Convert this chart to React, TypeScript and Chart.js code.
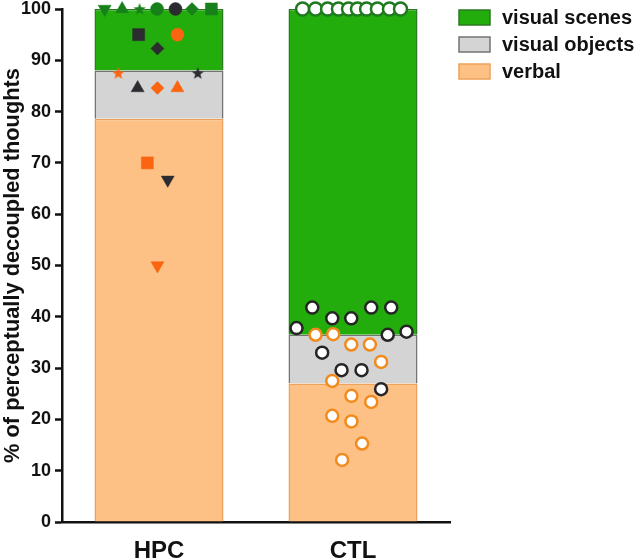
import React, { useEffect, useRef } from "react";
import { Chart, registerables } from "chart.js";

Chart.register(...registerables);

// ---- data ----
const categories = ["HPC", "CTL"];
const verbal = [78.6, 27.0];
const visualObjects = [9.4, 9.5];
const visualScenes = [12.0, 63.5];

const legendLabels = ["visual scenes", "visual objects", "verbal"];

// HPC individual markers (offset within category, value, marker id)
const hpcOffset = [-0.28, -0.19, -0.1, -0.01, 0.085, 0.17, 0.27, -0.105, 0.095, -0.008, -0.21, 0.2, -0.11, -0.008, 0.095, -0.06, 0.045, -0.008];
const hpcValue = [100, 100, 100, 100, 100, 100, 100, 95, 95, 92.3, 87.5, 87.5, 84.6, 84.6, 84.6, 70, 66.7, 50];
const hpcMarker = ["gTriDown", "gTri", "gStar", "gCircle", "kCircle", "gDiamond", "gSquare", "kSquare", "oCircle", "kDiamond", "oStar", "kStar", "kTri", "oDiamond", "oTri", "oSquare", "kTriDown", "oTriDown"];

// CTL individual circles
const ctlTopOffset = [-0.26, -0.193, -0.131, -0.075, -0.023, 0.023, 0.07, 0.126, 0.188, 0.245];
const ctlTopValue = [100, 100, 100, 100, 100, 100, 100, 100, 100, 100];
const ctlDarkOffset = [-0.21, -0.107, -0.009, 0.094, 0.197, -0.291, 0.179, 0.276, -0.159, -0.059, 0.044, 0.145];
const ctlDarkValue = [41.8, 39.7, 39.7, 41.8, 41.8, 37.8, 36.5, 37.1, 33.0, 29.6, 29.6, 25.9];
const ctlOrangeOffset = [-0.193, -0.102, -0.009, 0.087, 0.145, -0.107, -0.008, 0.094, -0.107, -0.008, 0.047, -0.056];
const ctlOrangeValue = [36.5, 36.6, 34.6, 34.6, 31.2, 27.5, 24.6, 23.4, 20.7, 19.6, 15.3, 12.1];

// ---- styles ----
const GREEN = "#22ad0c";
const GREEN_BORDER = "#2b7a22";
const GRAY = "#d4d4d4";
const GRAY_BORDER = "#737373";
const ORANGE = "#fdc185";
const ORANGE_BORDER = "#eea15a";
const MK_GREEN = "#17801a";
const MK_DARK = "#2c2c30";
const MK_ORANGE = "#fb6410";
const FONT = "'Liberation Sans', Arial, sans-serif";

function makeStar(color: string) {
  const c = document.createElement("canvas");
  c.width = 14;
  c.height = 14;
  const ctx = c.getContext("2d")!;
  ctx.fillStyle = color;
  ctx.beginPath();
  for (let i = 0; i < 10; i++) {
    const r = i % 2 === 0 ? 6.5 : 2.7;
    const a = -Math.PI / 2 + (i * Math.PI) / 5;
    const x = 7 + r * Math.cos(a);
    const y = 7.5 + r * Math.sin(a);
    if (i === 0) ctx.moveTo(x, y);
    else ctx.lineTo(x, y);
  }
  ctx.closePath();
  ctx.fill();
  return c;
}

export default function App() {
  const ref = useRef<HTMLCanvasElement | null>(null);

  useEffect(() => {
    if (!ref.current) return;
    const colorOf: Record<string, string> = { g: MK_GREEN, k: MK_DARK, o: MK_ORANGE };
    const stars: Record<string, HTMLCanvasElement> = {
      g: makeStar(MK_GREEN),
      k: makeStar(MK_DARK),
      o: makeStar(MK_ORANGE),
    };
    const styleOf = (id: string) => {
      const c = id[0];
      const shape = id.slice(1);
      const color = colorOf[c];
      switch (shape) {
        case "TriDown":
          return { style: "triangle", rot: 180, r: 7.5, color };
        case "Tri":
          return { style: "triangle", rot: 0, r: 7.5, color };
        case "Star":
          return { style: stars[c], rot: 0, r: 7, color };
        case "Circle":
          return { style: "circle", rot: 0, r: 6.5, color };
        case "Diamond":
          return { style: "rectRot", rot: 0, r: 6.5, color };
        case "Square":
          return { style: "rect", rot: 0, r: 8.5, color };
      }
      return { style: "circle", rot: 0, r: 6, color };
    };
    const hpcStyles = hpcMarker.map(styleOf);

    const legendPlugin = {
      id: "sideLegend",
      afterDraw(chart: any) {
        const ctx = chart.ctx;
        const fills = [GREEN, GRAY, ORANGE];
        const borders = [GREEN_BORDER, GRAY_BORDER, ORANGE_BORDER];
        ctx.save();
        ctx.font = `bold 20px ${FONT}`;
        ctx.textBaseline = "middle";
        legendLabels.forEach((t, i) => {
          const y = 10 + i * 27;
          ctx.fillStyle = fills[i];
          ctx.fillRect(459, y, 31, 15);
          ctx.strokeStyle = borders[i];
          ctx.lineWidth = 1.5;
          ctx.strokeRect(459, y, 31, 15);
          ctx.fillStyle = "#111";
          ctx.fillText(t, 502, y + 8);
        });
        ctx.restore();
      },
    };

    const scatterCommon = { xAxisID: "x2", yAxisID: "y2", clip: false, order: 0 };

    const chart = new Chart(ref.current, {
      type: "bar",
      data: {
        labels: categories,
        datasets: [
          {
            ...scatterCommon,
            type: "scatter",
            label: "HPC points",
            data: hpcOffset.map((o, i) => ({ x: 0 + o, y: hpcValue[i] })),
            pointStyle: hpcStyles.map((s) => s.style),
            rotation: hpcStyles.map((s) => s.rot),
            pointRadius: hpcStyles.map((s) => s.r),
            backgroundColor: hpcStyles.map((s) => s.color),
            borderColor: hpcStyles.map((s) => s.color),
            borderWidth: 0.5,
          } as any,
          {
            ...scatterCommon,
            type: "scatter",
            label: "CTL orange",
            data: ctlOrangeOffset.map((o, i) => ({ x: 1 + o, y: ctlOrangeValue[i] })),
            pointRadius: 6,
            pointBorderWidth: 2.5,
            backgroundColor: "#ffffff",
            borderColor: "#f28a1e",
          } as any,
          {
            ...scatterCommon,
            type: "scatter",
            label: "CTL dark",
            data: ctlDarkOffset.map((o, i) => ({ x: 1 + o, y: ctlDarkValue[i] })),
            pointRadius: 6,
            pointBorderWidth: 2.5,
            backgroundColor: "#ffffff",
            borderColor: "#252525",
          } as any,
          {
            ...scatterCommon,
            type: "scatter",
            label: "CTL top",
            data: ctlTopOffset.map((o, i) => ({ x: 1 + o, y: ctlTopValue[i] })),
            pointRadius: 6.5,
            pointBorderWidth: 2.5,
            backgroundColor: "#ffffff",
            borderColor: "#1f7a1f",
          } as any,
          {
            label: "verbal",
            data: verbal,
            backgroundColor: ORANGE,
            borderColor: ORANGE_BORDER,
            borderWidth: 1.5,
            grouped: false,
            order: 5,
          } as any,
          {
            label: "visual objects",
            data: visualObjects,
            backgroundColor: GRAY,
            borderColor: GRAY_BORDER,
            borderWidth: 1.5,
            grouped: false,
            order: 5,
          } as any,
          {
            label: "visual scenes",
            data: visualScenes,
            backgroundColor: GREEN,
            borderColor: GREEN_BORDER,
            borderWidth: 1.5,
            grouped: false,
            order: 5,
          } as any,
        ],
      },
      options: {
        responsive: false,
        animation: false,
        layout: { padding: { top: 9, right: 190, left: 0, bottom: 0 } },
        datasets: { bar: { barPercentage: 0.665, categoryPercentage: 1 } } as any,
        plugins: {
          legend: { display: false },
          tooltip: { enabled: false },
        },
        scales: {
          x: {
            type: "category",
            stacked: true,
            offset: true,
            grid: { display: true, drawOnChartArea: false, drawTicks: false },
            border: { display: true, color: "#111", width: 2.5 },
            ticks: {
              color: "#111",
              font: { family: FONT, size: 24, weight: "bold" },
              padding: 15,
            },
            afterFit: (s: any) => {
              s.height = 38;
              s.paddingLeft = 0;
              s.paddingRight = 0;
            },
          },
          y: {
            type: "linear",
            stacked: true,
            min: 0,
            max: 100,
            grid: {
              display: true,
              drawOnChartArea: false,
              drawTicks: true,
              tickLength: 7,
              tickWidth: 2.5,
              tickColor: "#111",
            },
            border: { display: true, color: "#111", width: 2.5 },
            ticks: {
              stepSize: 10,
              color: "#111",
              padding: 4,
              font: { family: FONT, size: 18, weight: "bold" },
            },
            title: {
              display: true,
              text: "% of perceptually decoupled thoughts",
              color: "#111",
              font: { family: FONT, size: 21.8, weight: "bold" },
              padding: { top: 0, bottom: 0 },
            },
            afterFit: (s: any) => {
              s.width = 62;
              s.paddingTop = 0;
              s.paddingBottom = 0;
            },
          },
          x2: { type: "linear", min: -0.5, max: 1.5, offset: false, display: false, grid: { offset: false } },
          y2: { type: "linear", min: 0, max: 100, offset: false, display: false },
        },
      } as any,
      plugins: [legendPlugin],
    });
    return () => chart.destroy();
  }, []);

  return (
    <canvas
      ref={ref}
      width={640}
      height={560}
      style={{ position: "fixed", left: 0, top: 0, width: 640, height: 560, display: "block", background: "#fff" }}
    />
  );
}
